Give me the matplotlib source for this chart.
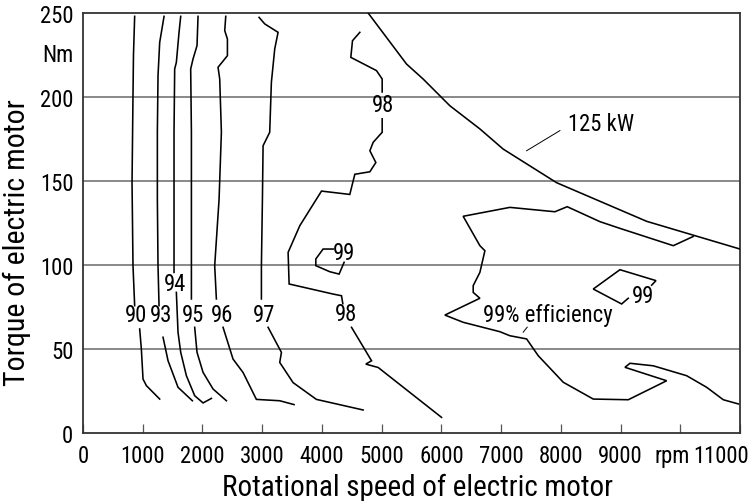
import matplotlib
matplotlib.use("Agg")
import matplotlib.pyplot as plt
from matplotlib import font_manager
from matplotlib.font_manager import FontProperties
from matplotlib.transforms import ScaledTranslation

# ---------------- data ----------------
# iso-efficiency contour segments: rpm / torque (Nm)
c90_top_x = [865, 845, 837, 821, 837, 865]
c90_top_y = [248, 225, 200.8, 149, 99.6, 75.8]
c90_bot_x = [949, 977, 1005, 1061, 1284]
c90_bot_y = [61.9, 50, 32.1, 28.2, 20.2]

c93_top_x = [1357, 1284, 1256, 1245, 1245, 1256, 1273]
c93_top_y = [248, 232.5, 212.7, 179, 139, 99.6, 75.8]
c93_bot_x = [1340, 1424, 1591, 1831]
c93_bot_y = [57, 43, 27.2, 19.2]

c94_top_x = [1636, 1608, 1563, 1535, 1524, 1524, 1524]
c94_top_y = [248, 238.5, 220.6, 216.7, 179, 119, 95.6]
c94_bot_x = [1563, 1591, 1636, 1731, 1870, 2010, 2150]
c94_bot_y = [83.7, 59.9, 48, 34.1, 22.2, 17.9, 20.6]

c95_top_x = [1926, 1909, 1842, 1803, 1815, 1815, 1815]
c95_top_y = [248, 230.6, 222.6, 216.7, 179, 119, 79.8]
c95_bot_x = [1870, 1909, 2010, 2177, 2401]
c95_bot_y = [62.9, 48, 36.1, 26.2, 19.2]

c96_top_x = [2390, 2373, 2418, 2418, 2261, 2289, 2317, 2278, 2205, 2233]
c96_top_y = [248, 239.5, 234.5, 224.6, 217.7, 210.7, 179, 139, 99.6, 79.8]
c96_bot_x = [2345, 2512, 2680, 2903, 3294, 3534]
c96_bot_y = [62.9, 44, 36, 20, 19.2, 16.9]

c97_top_x = [2948, 3043, 3266, 3210, 3154, 3126, 3015, 3004, 2987, 2987]
c97_top_y = [247.4, 243.5, 238.5, 228.6, 208.7, 179, 171, 139, 99.6, 79.8]
c97_bot_x = [3099, 3322, 3294, 3517, 3908, 4690]
c97_bot_y = [62.9, 48, 42, 30, 20, 13.7]

c98_top_x = [4635, 4512, 4484, 4914, 5009, 5009]
c98_top_y = [238.5, 233.5, 223.6, 215.7, 210.7, 203]
c98_mid_x = [5009, 5009, 4858, 4803, 4903, 4803, 4551, 4467, 3993, 3630,
             3434, 3451, 4188, 4328, 4350]
c98_mid_y = [187, 179, 173, 168, 161, 155.5, 154, 142, 144, 123.4,
             107.5, 88.7, 82.7, 81.7, 77]
c98_bot_x = [4496, 4831, 4735, 4942, 6003]
c98_bot_y = [62.9, 43, 41, 39, 9.3]

c99a_x = [4372, 4288, 4132, 3898, 3898, 4020, 4188]
c99a_y = [101.6, 94.6, 96, 99.6, 103.6, 109.5, 109.5]

c99b_x = [9521, 9593, 8990, 8543, 9018, 9129]
c99b_y = [88, 90.7, 97.2, 85.7, 76.8, 80.2]

c99c_x = [10218, 9883, 8990, 8655, 8107, 7901, 7147, 6365, 6645, 6729, 6645,
          6533, 6533, 6645, 6059, 6365, 6980, 7147, 7427, 7622, 8041, 8543,
          9129, 9772, 9074, 9158, 9548, 10107, 10442, 10720, 10972]
c99c_y = [117, 111.5, 121.8, 125.8, 134.7, 131.7, 134.3, 129, 111.5, 108.5, 95.6,
          87.7, 83.7, 80.2, 70.2, 65.9, 60.3, 57.9, 56, 46, 30.2, 20.2,
          19.8, 31.1, 39.1, 41.5, 40, 34.1, 27.2, 19.8, 17.3]

# 125 kW power limit
p125_x = [4774, 5417, 5695, 6142, 6645, 7035, 7929, 9437, 11000]
p125_y = [250, 219.6, 210.7, 194.8, 181, 169, 149, 126, 109.5]

# contour labels
label_text = ["90", "93", "94", "95", "96", "97", "98", "98", "99", "99",
              "99% efficiency", "125 kW"]
label_x = [888, 1313, 1548, 1849, 2323, 3027, 4406, 5025, 4362, 9380, 7781, 8680]
label_y = [70.4, 70.4, 88.7, 70.4, 70.4, 70.4, 71.3, 195.4, 107.5, 82, 70.4, 184]

lead_125_x = [7985, 7427]
lead_125_y = [180, 168]
lead_99_x = [7370, 7437]
lead_99_y = [60, 63]

x_ticks = [0, 1000, 2000, 3000, 4000, 5000, 6000, 7000, 8000, 9000, 10000, 11000]
x_ticklabels = ["0", "1000", "2000", "3000", "4000", "5000", "6000", "7000",
                "8000", "9000", "rpm", "11000"]
y_ticks = [0, 50, 100, 150, 200, 227, 250]
y_ticklabels = ["0", "50", "100", "150", "200", "Nm", "250"]
grid_y = [50, 100, 150, 200]
x_title = "Rotational speed of electric motor"
y_title = "Torque of electric motor"

# ---------------- font: prefer a narrow / condensed sans ----------------
def pick_font():
    entries = font_manager.fontManager.ttflist
    pref = ["Liberation Sans Narrow", "Roboto Condensed", "Noto Sans Condensed",
            "DejaVu Sans Condensed", "Open Sans Condensed"]
    for p in pref:
        for f in entries:
            if f.name == p and f.style == "normal" and str(f.weight) in ("400", "normal", "regular"):
                return f.fname
    cond = ("condensed", "semi-condensed", "extra-condensed", "ultra-condensed")
    best = None
    for f in entries:
        if str(f.stretch) in cond and f.style == "normal" and str(f.weight) in ("400", "normal", "regular"):
            if "Mono" in f.name or "Serif" in f.name:
                continue
            if best is None or "Sans" in f.name:
                best = f.fname
    return best

fname = pick_font()

fig = plt.figure(figsize=(7.52, 5.02), dpi=100)

def fp(size):
    if fname:
        return FontProperties(fname=fname, size=size)
    return FontProperties(family="DejaVu Sans", size=size)

renderer = fig.canvas.get_renderer()

def size_for(text, target_px, cap=30.0):
    probe = fig.text(0, 0, text, fontproperties=fp(20))
    w = probe.get_window_extent(renderer).width
    probe.remove()
    return min(cap, 20 * target_px / w)

FS = size_for("1000", 45.0, 19.0)          # tick labels
FS_LAB = size_for("99% efficiency", 129.0, 22.0)  # in-plot labels
FS_XT = size_for(x_title, 390.0, 26.0)
FS_YT = size_for(y_title, 287.0, 26.0)

ax = fig.add_axes([83 / 752, 68 / 502, 657 / 752, 420 / 502])
ax.set_xlim(0, 11000)
ax.set_ylim(0, 250)

for gy in grid_y:
    ax.axhline(gy, color="#808080", lw=1.3, zorder=1)

segs = [(c90_top_x, c90_top_y), (c90_bot_x, c90_bot_y),
        (c93_top_x, c93_top_y), (c93_bot_x, c93_bot_y),
        (c94_top_x, c94_top_y), (c94_bot_x, c94_bot_y),
        (c95_top_x, c95_top_y), (c95_bot_x, c95_bot_y),
        (c96_top_x, c96_top_y), (c96_bot_x, c96_bot_y),
        (c97_top_x, c97_top_y), (c97_bot_x, c97_bot_y),
        (c98_top_x, c98_top_y), (c98_mid_x, c98_mid_y), (c98_bot_x, c98_bot_y),
        (c99a_x, c99a_y), (c99b_x, c99b_y), (c99c_x, c99c_y),
        (p125_x, p125_y)]
for sx, sy in segs:
    ax.plot(sx, sy, color="black", lw=1.15, solid_joinstyle="miter", zorder=3)

ax.plot(lead_125_x, lead_125_y, color="black", lw=0.7, zorder=3)
ax.plot(lead_99_x, lead_99_y, color="black", lw=0.7, zorder=3)

for t, lx, ly in zip(label_text, label_x, label_y):
    ax.text(lx, ly, t, ha="center", va="center", fontproperties=fp(FS_LAB), zorder=4)

ax.set_xticks(x_ticks)
ax.set_xticklabels(x_ticklabels, fontproperties=fp(FS))
ax.set_yticks(y_ticks)
ax.set_yticklabels(y_ticklabels, fontproperties=fp(FS))
ax.tick_params(axis="x", direction="in", length=6.5, width=0.9, color="#555555", pad=8)
ax.tick_params(axis="y", length=0, pad=7)

# "rpm" sits a little left of its tick; last label is flush with the figure edge
xtl = ax.get_xticklabels()
rpm_lab = xtl[-2]
rpm_lab.set_transform(rpm_lab.get_transform() + ScaledTranslation(-8 / 100, 0, fig.dpi_scale_trans))
last = xtl[-1]
last.set_horizontalalignment("right")
last.set_transform(last.get_transform() + ScaledTranslation(9 / 100, 0, fig.dpi_scale_trans))

for sp in ax.spines.values():
    sp.set_color("#333333")
    sp.set_linewidth(1.3)

fig.text(418 / 752, 6 / 502, x_title, ha="center", va="baseline",
         fontproperties=fp(FS_XT))
fig.text(17 / 752, 1 - 243 / 502, y_title, ha="center", va="center",
         rotation=90, fontproperties=fp(FS_YT))

fig.savefig("out.png", dpi=100)
